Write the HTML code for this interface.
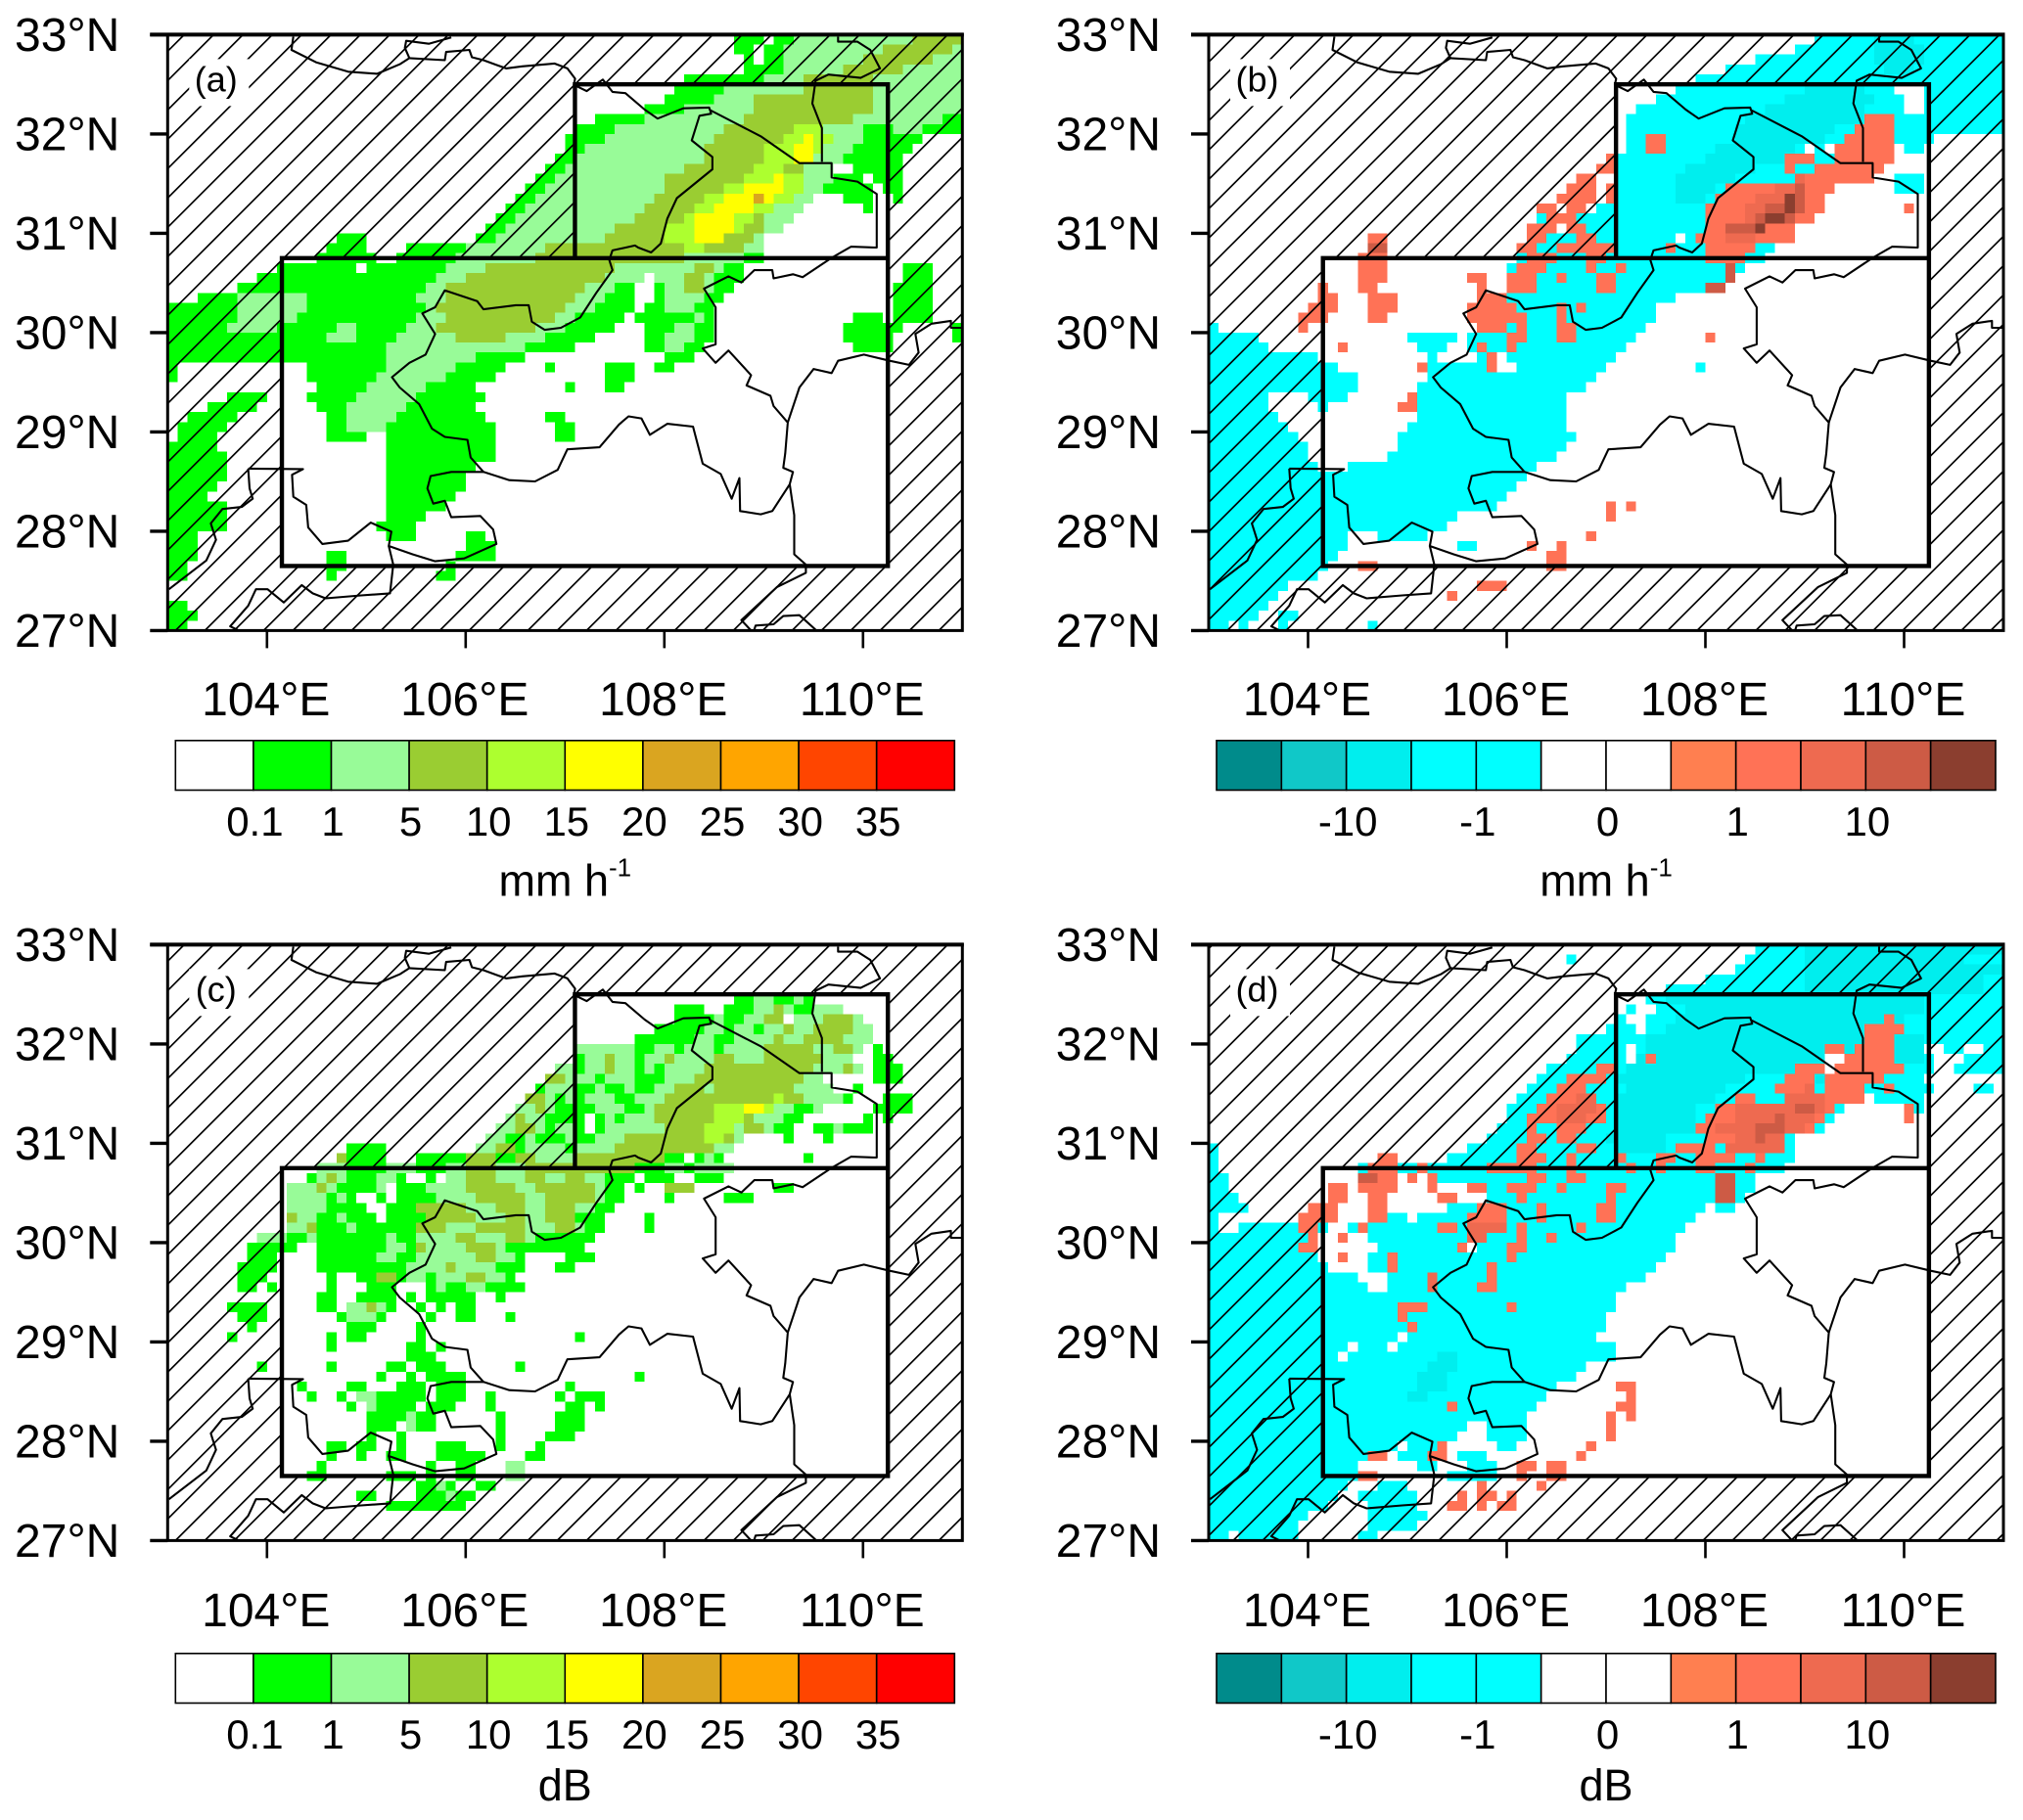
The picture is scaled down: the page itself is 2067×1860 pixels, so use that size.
<!DOCTYPE html>
<html lang="en">
<head>
<meta charset="utf-8">
<title>Rainfall and reflectivity maps</title>
<style>
html,body{margin:0;padding:0;background:#fff;}
svg{display:block;font-family:"Liberation Sans",Arial,sans-serif;}
</style>
</head>
<body>
<svg id="figure" xmlns="http://www.w3.org/2000/svg" width="2067" height="1860" viewBox="0 0 2067 1860"></svg>
<script>
/* Axis tick values */
const latTicks = [27, 28, 29, 30, 31, 32, 33];
const lonTicks = [104, 106, 108, 110];

/* Colour bars */
const rainBarColors = ['#ffffff','#00ff00','#98fb98','#9acd32','#adff2f','#ffff00','#daa520','#ffa500','#ff4500','#ff0000'];
const rainBarLabels = ['0.1','1','5','10','15','20','25','30','35'];
const diffBarColors = ['#008b8b','#10c8c8','#00eeee','#00ffff','#00ffff','#ffffff','#ffffff','#ff7f50','#ff7256','#ee6a50','#cd5b45','#8b3e2f'];
const diffBarLabels = ['-10','-1','0','1','10'];
const diffCellColors = ['#ffffff','#00ffff','#00eeee','#10c8c8','#ff7256','#ee6a50','#cd5b45','#8b3e2f'];

/* Gridded levels: one row per 0.1 deg of latitude from 33N southward.
   Each row is level, endColumn pairs; a column is 0.1 deg of longitude from 103E. */
const panelARows = [
[0,57,1,60,0,61,1,63,2,75,3,80],
[0,57,1,59,0,60,1,62,2,72,3,79,2,80],
[0,58,1,59,0,60,1,62,2,70,3,77,2,80],
[0,58,1,62,2,68,3,74,2,80],
[0,52,1,60,2,64,3,71,2,80],
[0,51,1,56,2,64,3,71,2,80],
[0,50,1,55,2,59,3,71,2,80],
[0,48,1,52,2,59,3,71,2,80],
[0,43,1,48,2,58,3,69,2,72,2,78,1,80],
[0,41,1,45,2,56,3,63,4,66,2,70,1,73,2,76,1,80],
[0,40,1,44,2,55,3,62,4,64,5,65,4,67,2,70,1,76,0,80],
[0,40,1,42,2,54,3,60,4,63,5,65,4,66,2,69,1,75,0,80],
[0,39,1,41,2,54,3,60,4,63,5,65,2,68,1,74,0,80],
[0,38,1,40,2,52,3,59,4,62,3,64,2,67,0,69,1,74,0,80],
[0,37,1,39,2,50,3,58,4,61,5,62,4,64,2,67,1,70,0,71,1,74,0,80],
[0,36,1,38,2,50,3,56,4,58,5,62,4,64,2,66,1,71,0,72,1,74,0,80],
[0,35,1,37,2,49,3,54,4,56,5,59,6,60,5,61,4,63,2,65,0,68,1,71,0,73,1,74,0,80],
[0,34,1,36,2,48,3,53,4,55,5,59,4,61,2,64,0,70,1,71,0,80],
[0,33,1,35,2,47,3,52,4,53,5,57,4,59,3,60,2,63,0,80],
[0,32,1,34,2,45,3,50,4,53,5,57,4,58,3,60,2,62,0,80],
[0,17,1,20,0,31,1,33,2,44,3,50,4,53,5,56,3,59,2,60,0,80],
[0,16,1,20,0,24,1,30,2,38,3,52,4,54,3,58,2,60,0,80],
[0,15,1,21,0,23,1,29,2,37,3,52,2,58,1,60,0,80],
[0,11,1,19,0,20,1,28,2,32,3,45,2,53,3,55,2,56,1,58,0,74,1,77,0,80],
[0,9,1,27,2,30,3,44,2,48,0,49,2,52,3,54,2,55,1,58,0,74,1,77,0,80],
[0,7,1,26,2,28,3,42,2,45,1,47,0,49,1,50,2,52,3,54,2,55,1,57,0,73,1,77,0,80],
[0,3,1,7,2,14,1,25,2,28,3,41,2,44,1,47,0,49,1,50,2,54,1,56,0,73,1,77,0,80],
[1,7,2,14,1,26,2,27,3,40,2,43,1,47,0,48,1,50,2,53,1,55,0,73,1,77,0,80],
[1,7,2,13,1,25,2,28,3,39,2,41,1,46,0,47,1,53,2,54,1,55,0,69,1,72,0,73,1,77,0,80],
[1,6,2,11,1,17,2,19,1,24,2,27,3,37,2,40,1,45,0,48,1,51,2,53,1,55,0,68,1,74,0,79,1,80],
[1,16,2,19,1,23,2,29,3,34,2,38,1,43,0,48,1,50,2,53,1,55,0,68,1,73,0,79,1,80],
[1,22,2,36,1,41,0,48,1,50,2,52,1,54,0,69,1,73,0,80],
[1,22,2,31,1,36,0,50,1,53,0,80],
[1,1,0,14,1,22,2,29,1,34,0,38,1,39,0,44,1,47,0,49,1,51,0,80],
[1,1,0,14,1,21,2,28,1,33,0,44,1,47,0,80],
[0,15,1,20,2,26,1,31,0,40,1,41,0,44,1,46,0,80],
[0,6,1,10,0,14,1,19,2,25,1,32,0,80],
[0,4,1,9,0,15,1,18,2,24,1,31,0,80],
[0,2,1,7,0,16,1,18,2,23,1,32,0,38,1,40,0,80],
[0,1,1,6,0,16,1,18,2,22,1,33,0,39,1,41,0,80],
[0,1,1,5,0,16,1,20,0,22,1,33,0,39,1,41,0,80],
[1,5,0,22,1,33,0,80],
[1,6,0,22,1,33,0,80],
[1,6,0,22,1,31,0,80],
[1,6,0,22,1,30,0,80],
[1,5,0,22,1,30,0,80],
[1,4,0,22,1,29,0,80],
[1,6,0,22,1,28,0,80],
[1,6,0,22,1,26,0,80],
[1,6,0,21,1,25,0,80],
[1,3,0,22,1,25,0,30,1,32,0,80],
[1,3,0,30,1,33,0,80],
[1,3,0,16,1,18,0,29,1,33,0,80],
[1,2,0,16,1,18,0,28,1,29,0,80],
[1,2,0,16,1,17,0,27,1,29,0,80],
[0,80],
[0,80],
[1,2,0,80],
[1,3,0,80],
[1,2,0,80]
];
const panelBRows = [
[0,61,1,67,2,71,1,80],
[0,59,1,67,2,72,1,80],
[0,55,1,67,2,72,1,80],
[0,52,1,68,2,71,1,80],
[0,49,1,80],
[0,47,1,60,2,66,1,69,0,72,1,80],
[0,45,1,58,2,67,1,70,0,72,1,80],
[0,43,1,56,2,66,1,70,0,72,1,80],
[0,42,1,54,2,66,4,69,1,80],
[0,42,1,53,2,63,1,65,4,69,1,80],
[0,42,1,44,4,46,1,53,2,62,1,64,4,69,1,73,0,80],
[0,42,1,44,4,46,1,51,2,59,1,60,0,61,1,62,0,63,4,69,0,70,1,72,0,80],
[0,40,4,41,1,50,2,58,4,61,1,63,4,69,0,80],
[0,39,4,41,1,48,2,55,1,58,4,59,1,61,4,68,0,80],
[0,37,4,39,0,41,1,47,2,53,1,59,5,60,4,67,0,69,1,72,0,80],
[0,36,4,39,0,40,4,41,1,47,2,51,1,52,4,57,5,59,6,60,4,63,0,69,1,72,0,80],
[0,35,4,39,0,40,4,41,1,47,2,50,1,51,4,55,5,58,7,59,6,60,4,62,0,80],
[0,33,4,35,0,36,4,38,0,39,1,50,4,54,5,56,6,58,7,59,6,60,4,62,0,70,4,71,0,80],
[0,33,1,34,4,37,1,50,4,54,5,55,6,56,7,58,6,59,4,61,0,80],
[0,32,4,35,0,36,4,38,1,50,4,52,6,55,7,56,4,59,0,80],
[0,16,4,18,0,32,4,34,1,37,4,39,1,47,0,48,1,49,4,52,5,55,4,59,0,80],
[0,16,6,18,0,31,4,33,1,35,4,41,1,46,4,47,1,50,4,55,1,57,0,80],
[0,15,4,18,0,31,1,32,4,35,1,38,4,40,1,50,4,54,1,56,0,80],
[0,15,4,18,0,30,1,31,4,34,1,38,4,39,1,41,4,42,1,52,6,53,1,54,0,80],
[0,15,4,18,0,26,4,28,0,30,4,33,1,35,4,36,1,39,4,41,1,52,6,53,0,80],
[0,11,4,12,0,15,4,17,0,27,4,28,0,30,4,33,1,39,4,41,1,50,6,52,0,80],
[0,11,4,13,0,16,4,19,0,27,4,30,1,47,0,80],
[0,10,4,13,0,16,4,19,0,26,4,31,1,35,4,36,1,37,4,38,1,45,0,80],
[0,9,4,12,0,16,4,18,0,26,4,32,1,35,4,36,1,45,0,80],
[1,1,0,9,4,10,0,27,4,30,1,31,4,32,1,35,4,37,1,44,0,80],
[1,5,0,20,1,25,0,26,1,30,4,32,1,35,4,37,1,43,0,50,4,51,0,80],
[1,6,0,13,4,14,0,21,1,24,0,26,1,27,4,28,1,30,4,31,1,42,0,80],
[1,11,0,22,1,23,0,27,1,28,4,29,0,30,1,41,0,80],
[1,13,0,21,4,22,1,28,4,29,0,31,1,40,0,49,1,50,0,80],
[1,15,0,22,1,39,0,80],
[1,15,0,21,1,38,0,80],
[1,6,0,10,1,14,0,20,4,21,1,36,0,80],
[1,6,0,11,1,12,0,19,4,21,1,36,0,80],
[1,7,0,21,1,36,0,80],
[1,8,0,20,1,36,0,80],
[1,9,0,19,1,37,0,80],
[1,10,0,19,1,36,0,80],
[1,10,0,18,1,35,0,80],
[1,11,0,14,1,33,0,80],
[1,32,0,80],
[1,31,0,80],
[1,30,0,80],
[1,29,0,40,4,41,0,42,4,43,0,80],
[1,25,0,40,4,41,0,80],
[1,24,0,80],
[1,14,0,17,1,22,0,38,4,39,0,80],
[1,14,0,25,1,27,0,32,4,33,0,35,4,36,0,80],
[1,13,0,34,4,36,0,80],
[1,12,0,15,4,17,0,34,4,36,0,80],
[1,11,0,80],
[1,8,0,27,4,30,0,80],
[1,7,0,24,4,25,0,80],
[1,6,0,80],
[1,5,0,7,1,9,0,80],
[1,2,0,3,1,4,0,7,1,8,0,16,1,17,0,80]
];
const panelCRows = [
[0,80],[0,80],[0,80],[0,80],[0,80],
[0,57,1,59,2,61,1,63,2,64,1,65,0,80],
[0,51,1,54,0,56,1,59,2,61,3,62,2,63,1,65,2,68,0,80],
[0,51,1,55,2,56,1,58,2,60,3,62,0,63,2,66,3,69,2,70,0,80],
[0,49,1,54,2,56,1,57,2,59,1,60,2,62,3,63,2,65,3,69,2,71,0,80],
[0,47,1,53,2,55,1,57,2,61,3,62,2,64,3,68,2,71,0,80],
[0,41,2,47,1,49,2,51,1,52,2,55,1,56,2,60,3,65,2,67,3,69,2,70,0,71,1,72,0,80],
[0,41,1,42,2,44,3,45,2,47,1,48,2,50,3,51,2,55,3,57,2,60,3,66,2,69,0,71,1,73,0,80],
[0,39,2,41,1,42,2,44,3,45,2,47,1,48,2,49,1,50,2,54,3,65,2,68,3,69,2,70,0,71,1,74,0,80],
[0,38,3,40,2,43,1,44,2,47,1,50,2,53,3,64,2,66,0,71,1,74,0,80],
[0,37,1,38,2,41,1,43,2,44,1,46,2,47,1,49,2,51,3,54,2,55,3,63,2,67,0,69,1,70,0,80],
[0,36,3,38,2,39,1,40,2,41,1,42,2,45,1,47,2,50,3,61,4,62,3,64,2,68,1,69,0,72,1,75,0,80],
[0,35,2,37,3,38,2,39,1,43,2,46,1,48,2,49,3,55,4,58,5,60,4,61,2,63,1,65,2,66,0,71,1,75,0,80],
[0,34,2,35,3,36,2,38,1,42,0,43,1,44,2,45,1,46,2,49,3,55,4,58,3,59,2,62,1,64,0,70,1,71,0,72,1,73,0,80],
[0,33,2,35,3,37,2,38,1,39,2,41,1,42,0,43,1,44,2,50,3,54,4,57,2,58,3,60,2,61,1,63,0,65,1,67,2,68,1,71,0,80],
[0,32,2,34,1,36,2,37,1,40,2,41,1,43,2,46,3,54,4,56,3,57,2,58,0,62,1,63,0,66,1,67,0,80],
[0,18,1,22,0,31,2,33,3,35,1,36,2,40,1,41,2,45,3,55,2,57,0,80],
[0,17,3,18,1,22,0,25,1,30,3,33,1,35,3,37,2,41,3,50,1,52,0,53,1,54,2,55,1,56,0,64,1,65,0,80],
[0,15,2,18,1,22,2,25,1,28,2,30,3,33,2,36,3,47,1,50,2,52,1,53,2,57,0,80],
[0,14,1,15,2,16,3,17,2,18,1,21,2,23,1,24,0,26,1,27,0,28,2,30,3,33,2,36,3,38,2,40,3,42,2,44,1,47,0,48,1,51,0,53,1,56,0,80],
[0,12,2,15,3,16,2,17,1,21,2,22,0,23,1,26,2,30,3,35,2,37,3,43,2,44,1,46,0,47,1,48,0,50,3,53,0,61,1,63,0,80],
[0,12,2,16,1,17,2,18,1,19,0,21,1,22,0,23,1,27,2,31,3,36,2,38,3,43,2,44,1,46,0,50,1,51,0,56,1,59,0,80],
[0,12,2,16,1,20,0,22,1,25,3,30,2,33,3,36,2,38,3,41,2,43,1,45,0,80],
[0,12,3,13,2,15,1,17,2,18,1,21,0,22,1,26,3,31,2,34,3,36,2,38,3,41,1,44,0,48,1,49,0,80],
[0,12,2,14,3,15,1,18,2,19,1,25,3,28,2,31,3,36,2,39,3,41,2,42,1,44,0,48,1,49,0,80],
[0,9,2,12,1,14,2,15,1,22,2,23,1,25,2,29,3,31,2,34,3,36,2,37,1,43,0,80],
[0,8,1,13,0,15,1,22,2,24,1,25,3,26,2,30,3,33,2,34,1,42,0,80],
[0,8,1,11,0,15,1,21,2,23,1,25,2,31,3,33,2,35,1,36,0,40,1,43,0,80],
[0,7,1,11,0,15,1,24,2,28,3,29,2,33,1,36,0,39,1,41,0,80],
[0,7,1,10,0,16,1,17,0,19,1,21,3,23,1,24,2,26,1,27,2,30,3,32,2,34,1,35,0,80],
[0,7,1,9,0,10,1,11,0,16,1,17,0,20,1,23,0,26,1,27,2,28,1,30,2,32,1,36,0,80],
[0,15,1,17,0,19,1,23,0,24,1,25,0,26,1,31,0,33,1,34,0,80],
[0,6,1,7,0,7,1,10,0,15,1,17,0,18,2,20,3,21,2,22,1,23,0,25,1,26,0,27,1,28,0,29,1,31,0,80],
[0,7,1,10,0,17,1,18,2,21,1,22,0,26,1,27,0,29,1,31,0,34,1,35,0,80],
[0,8,1,9,0,18,1,21,0,25,1,26,0,80],
[0,6,1,7,0,16,1,17,0,18,1,20,0,25,1,26,0,41,1,42,0,80],
[0,16,1,17,0,24,1,26,0,27,1,28,0,80],
[0,24,1,27,0,80],
[0,9,1,10,0,16,1,17,0,22,1,24,0,25,1,28,0,35,1,36,0,80],
[0,21,1,22,0,24,1,25,0,26,1,30,0,47,1,48,0,80],
[0,13,1,14,0,18,1,20,0,23,1,26,0,27,1,30,0,40,1,41,0,80],
[0,14,1,15,0,17,1,18,0,19,2,21,1,26,0,27,1,30,0,32,1,33,0,39,1,40,0,41,1,44,0,80],
[0,18,1,19,0,20,2,21,1,25,0,26,1,29,0,32,1,33,0,40,1,42,0,43,1,44,0,80],
[0,20,1,24,2,25,1,27,0,33,1,34,0,39,1,42,0,80],
[0,20,1,23,0,24,2,25,1,27,0,33,1,34,0,39,1,42,0,80],
[0,20,1,21,0,23,1,24,0,33,1,34,0,38,1,41,0,80],
[0,16,1,18,0,19,1,21,0,23,1,24,0,27,1,30,0,33,1,34,0,37,1,38,0,80],
[0,16,1,17,0,19,1,20,0,22,1,24,0,27,1,32,0,36,1,38,0,80],
[0,15,1,16,0,26,1,27,0,29,1,31,0,34,2,36,0,80],
[0,14,1,16,0,22,1,25,0,26,1,27,0,29,1,31,0,34,2,36,0,80],
[0,25,1,27,2,28,1,29,0,31,1,33,0,80],
[0,19,1,21,0,25,1,28,2,29,1,31,0,80],
[0,22,1,30,0,80],
[0,80],[0,80],[0,80]
];
const panelDRows = [
[0,55,1,60,2,80],
[0,36,1,37,0,54,1,60,2,76,1,80],
[0,53,1,60,2,80],
[0,50,1,60,2,78,1,80],
[0,46,1,60,2,78,1,80],
[0,44,1,46,2,72,1,80],
[0,42,1,43,0,45,1,48,2,72,1,80],
[0,41,1,42,0,44,1,47,2,68,4,69,2,70,1,80],
[0,40,1,43,0,44,1,46,2,66,4,70,1,80],
[0,37,1,44,2,66,4,69,2,72,1,80],
[0,37,1,42,0,43,1,44,2,62,4,64,2,65,4,69,2,72,0,74,1,76,0,78,1,80],
[0,36,1,42,0,43,2,44,4,45,2,62,0,64,4,69,2,72,1,73,0,76,1,80],
[0,34,1,39,4,41,1,42,2,59,4,62,0,63,4,70,1,73,0,75,1,80],
[0,33,1,36,4,40,1,41,2,54,1,58,4,61,2,62,4,68,1,72,0,80],
[0,32,1,35,4,38,1,42,2,52,1,57,4,60,5,61,1,62,4,66,1,68,4,69,1,73,0,77,1,79,0,80],
[0,31,1,34,4,37,5,39,1,41,2,51,1,53,4,55,1,58,5,62,4,66,0,67,1,72,0,80],
[0,30,1,33,4,35,5,39,4,40,1,41,2,49,1,51,4,53,5,59,6,61,5,62,4,63,1,64,0,70,4,71,1,72,0,80],
[0,30,1,32,4,35,5,38,4,40,1,41,2,49,1,50,4,53,5,57,6,58,5,61,4,62,1,63,0,70,4,71,0,80],
[0,29,1,32,4,33,1,35,4,38,1,41,2,49,4,51,5,55,6,58,5,60,4,61,1,62,0,80],
[0,28,1,32,4,34,1,35,4,37,1,40,2,46,1,50,4,53,5,55,6,56,5,58,1,59,0,80],
[1,1,0,26,1,31,4,33,1,37,4,39,1,41,2,46,1,47,4,51,1,52,5,58,1,59,0,80],
[1,1,0,17,4,19,0,24,1,31,4,34,1,36,4,37,1,41,4,42,1,45,4,47,1,49,4,53,1,55,4,56,1,59,0,80],
[1,1,0,15,1,16,4,19,1,21,4,22,1,28,4,33,1,36,4,37,1,42,4,43,1,45,4,46,1,49,4,51,1,54,4,55,1,58,0,80],
[1,2,0,15,6,17,4,19,0,20,4,21,0,22,4,23,1,32,4,34,1,36,4,38,1,51,6,53,1,55,0,80],
[1,2,0,12,4,14,0,15,4,19,0,22,4,23,0,26,4,28,1,30,4,33,1,35,4,36,1,40,4,42,1,51,6,53,1,55,0,80],
[1,3,0,12,4,14,0,16,4,18,0,23,4,25,0,28,1,31,4,32,1,40,4,41,1,51,6,53,1,54,0,80],
[1,4,0,10,4,13,0,16,4,18,0,24,1,27,4,30,1,33,4,34,1,39,4,41,1,50,0,51,1,53,0,80],
[1,1,0,9,4,13,0,16,4,18,1,20,0,21,1,26,4,30,1,33,4,34,1,39,4,41,1,49,0,80],
[1,1,0,3,1,9,4,11,1,12,0,14,1,15,4,16,1,23,4,25,1,26,5,30,1,31,4,32,1,37,4,38,1,48,0,80],
[1,10,4,11,0,13,4,14,0,16,1,26,5,28,1,31,4,32,1,34,4,35,1,47,0,80],
[1,9,4,11,0,17,1,25,4,26,0,27,1,30,4,32,1,47,0,80],
[1,11,0,13,4,14,0,16,1,18,4,19,1,30,4,31,1,46,0,80],
[1,12,0,16,1,18,4,19,1,28,4,29,1,45,0,80],
[1,15,0,18,1,22,5,23,1,28,4,29,1,44,0,80],
[1,16,0,18,1,22,5,23,1,27,4,29,1,42,0,80],
[1,41,0,80],
[1,19,4,22,1,30,4,31,1,41,0,80],
[1,19,4,20,1,40,0,80],
[1,20,4,21,1,40,0,80],
[1,19,0,20,1,39,0,80],
[1,14,0,15,1,18,0,19,1,41,0,80],
[1,13,0,14,1,23,2,25,1,41,0,80],
[1,22,2,25,1,38,0,80],
[1,21,2,24,1,37,0,80],
[1,21,2,24,1,35,0,41,4,43,0,80],
[1,20,2,22,1,34,0,42,4,43,0,80],
[1,24,4,25,1,33,0,41,4,43,0,80],
[1,32,0,40,4,41,0,42,4,43,0,80],
[1,26,0,28,1,32,0,40,4,41,0,80],
[1,25,0,28,1,32,0,40,4,41,0,80],
[1,19,0,20,1,23,4,24,0,29,1,31,0,38,4,39,0,80],
[1,16,4,18,0,19,1,22,4,24,0,25,1,28,0,37,4,38,0,80],
[1,15,0,21,1,23,0,26,1,29,0,31,4,33,0,34,4,36,0,80],
[1,15,4,17,0,24,1,29,0,31,4,32,0,34,4,36,0,80],
[1,14,0,17,1,20,0,27,4,28,0,33,4,34,0,80],
[1,13,0,15,1,21,0,25,4,26,0,27,4,29,0,30,4,31,0,80],
[1,12,0,16,1,21,0,24,4,26,0,27,4,28,0,29,4,31,0,80],
[1,10,0,16,1,22,0,80],
[1,9,0,16,1,21,0,80],
[1,2,0,3,1,9,0,15,1,17,0,80]
];

/* Base-map boundaries, digitised as x,y pairs in trace units (see traceLon / traceLat) */
const boundaryTraces = [
[455,88,452,120,490,150,540,173,585,178,620,155,635,140,628,115,630,98,665,105,700,90],
[635,140,690,145,692,125,728,120,732,138,750,145,785,165,810,160,860,153,880,165,892,190,890,205,910,220,935,192,950,222,970,225,1000,265,1020,287,1060,262,1100,260,1103,275,1085,280,1073,340,1105,380,1105,410,1050,480,1035,530,1025,590,1010,612,990,600,985,595,950,607,945,630,950,655,925,710,900,770,870,795,845,800,825,780,820,740,800,740,750,750,740,730,690,704,675,745,655,760,675,810,660,860,635,880,608,915,620,940,650,980,670,1040,690,1060,725,1067,730,1110,750,1145,790,1165,830,1168,865,1140,880,1090,930,1085,960,1030,975,1010,995,1015,1008,1055,1035,1028,1075,1035,1090,1125,1118,1150,1135,1210,1147,1160,1148,1240,1180,1248,1198,1240,1225,1175,1230,1145,1215,1135,1218,1100,1222,1025,1200,985,1195,960,1158,935,1165,910,1130,850,1110,880,1090,845,1110,835,1110,745,1092,700,1130,670,1150,685,1170,655,1198,655,1200,675,1230,665,1245,672,1290,625,1320,598,1360,600,1360,470,1330,440,1290,430,1290,395,1240,395,1180,330,1100,265],
[1222,1025,1240,940,1262,895,1290,905,1300,875,1340,860,1380,875,1410,885,1425,855,1420,810,1445,785,1475,778,1475,795,1492,795],
[1275,392,1275,310,1260,250,1265,195,1285,180,1335,188,1365,165,1350,120,1330,100,1300,100,1300,88],
[1225,1175,1232,1250,1232,1345,1250,1370,1250,1390,1205,1425,1150,1505,1165,1530],
[1170,1528,1172,1518,1200,1515,1215,1495,1240,1493,1265,1528],
[385,1137,470,1138,453,1152,455,1205,475,1225,478,1280,500,1320,540,1312,575,1268,607,1290,603,1325,640,1345,675,1362,720,1355,770,1320,765,1285,745,1252,700,1255,690,1215,672,1222,663,1185,668,1155,700,1145,750,1145],
[603,1325,610,1370,605,1440,560,1445,505,1452,485,1440,468,1420,440,1462,415,1430,397,1430,385,1470,357,1520,370,1530],
[385,1137,387,1185,392,1210,375,1230,345,1235,327,1270,335,1310,320,1360,262,1430]
];

/* Rectangular verification domains, as lon/lat corners */
const domainOutline = [[104.15,30.75],[107.1,30.75],[107.1,32.5],[110.25,32.5],[110.25,27.65],[104.15,27.65]];
const dividerLine = [[107.1,30.75],[110.25,30.75]];

const panelTitles = ['(a)','(b)','(c)','(d)'];

const SVG_NS = 'http://www.w3.org/2000/svg';
const figure = document.getElementById('figure');
const PLOT_W = 812, PLOT_H = 609;
const traceLon = x => 103 + (x - 260) / 154.1;
const traceLat = y => 33 - (y - 83) / 241.2;

function mk(tag, attrs, parent) {
  const el = document.createElementNS(SVG_NS, tag);
  for (const k in attrs) el.setAttribute(k, attrs[k]);
  parent.appendChild(el);
  return el;
}

function drawPanel(cfg, index) {
  const px = cfg.x, py = cfg.y;
  const lonScale = lon => px + (lon - 103) / 8 * PLOT_W;
  const latScale = lat => py + (33 - lat) / 6 * PLOT_H;
  const colToX = c => lonScale(103 + c * 0.1);
  const rowToY = r => latScale(33 - r * 0.1);

  const panel = mk('g', {}, figure);
  
  

  const clipId = 'plot-clip-' + index;
  const defs = mk('defs', {}, panel);
  const plotClip = mk('clipPath', {id: clipId}, defs);
  mk('rect', {x: px, y: py, width: PLOT_W, height: PLOT_H}, plotClip);

  const hatchClipId = 'hatch-clip-' + index;
  const hatchClip = mk('clipPath', {id: hatchClipId}, defs);
  const outlineD = domainOutline.map((p, i) => (i ? 'L' : 'M') + lonScale(p[0]) + ' ' + latScale(p[1])).join('') + 'Z';
  const titleHole = 'M' + (px + 22) + ' ' + (py + 25) + 'h61v48h-61Z';
  mk('path', {'clip-rule': 'evenodd', d: 'M' + px + ' ' + py + 'h' + PLOT_W + 'v' + PLOT_H + 'h-' + PLOT_W + 'Z' + outlineD + titleHole}, hatchClip);

  /* gridded field */
  const field = mk('g', {'clip-path': 'url(#' + clipId + ')', 'shape-rendering': 'crispEdges'}, panel);
  
  
  cfg.rows.forEach((row, r) => {
    let start = 0;
    for (let k = 0; k + 1 < row.length; k += 2) {
      const level = row[k], end = row[k + 1];
      if (end > start && level > 0) {
        const cell = mk('rect', {
          x: colToX(start), y: rowToY(r),
          width: colToX(end) - colToX(start),
          height: rowToY(r + 1) - rowToY(r),
          fill: cfg.cellColors[level]
        }, field);
        
        
      }
      if (end > start) start = end;
    }
  });

  /* significance hatching outside the verification domain */
  const hatch = mk('g', {'clip-path': 'url(#' + hatchClipId + ')', stroke: '#000', 'stroke-width': 1.7, fill: 'none'}, panel);
  
  
  for (let xb = px + cfg.hatchOffset - 30 * 24; xb < px + PLOT_W; xb += 30) {
    const line = mk('line', {x1: xb, y1: py + PLOT_H, x2: xb + PLOT_H, y2: py}, hatch);
    
    
  }

  /* province boundaries */
  const borders = mk('g', {'clip-path': 'url(#' + clipId + ')', stroke: '#000', 'stroke-width': 2.1, fill: 'none', 'stroke-linejoin': 'round'}, panel);
  
  
  boundaryTraces.forEach(tr => {
    let d = '';
    for (let i = 0; i + 1 < tr.length; i += 2) {
      d += (i ? 'L' : 'M') + lonScale(traceLon(tr[i])).toFixed(1) + ' ' + latScale(traceLat(tr[i + 1])).toFixed(1);
    }
    const path = mk('path', {d: d}, borders);
    
    
  });

  /* verification domain box */
  const box = mk('path', {d: outlineD, fill: 'none', stroke: '#000', 'stroke-width': 4.4}, panel);
  
  
  const divider = mk('line', {x1: lonScale(dividerLine[0][0]), y1: latScale(dividerLine[0][1]), x2: lonScale(dividerLine[1][0]), y2: latScale(dividerLine[1][1]), stroke: '#000', 'stroke-width': 4.4}, panel);
  
  

  /* plot frame */
  const frame = mk('rect', {x: px, y: py, width: PLOT_W, height: PLOT_H, fill: 'none', stroke: '#000', 'stroke-width': 3}, panel);
  
  
  const topLine = mk('line', {x1: px - 18, y1: py, x2: px + PLOT_W + 1.5, y2: py, stroke: '#000', 'stroke-width': 4}, panel);
  
  

  /* y axis */
  latTicks.forEach(lat => {
    const y = latScale(lat);
    const tick = mk('line', {x1: px - 18, y1: y, x2: px, y2: y, stroke: '#000', 'stroke-width': 3.4}, panel);
    
    
    const label = mk('text', {x: px - 49, y: y + 16.5, 'text-anchor': 'end', 'font-size': 48, fill: '#000'}, panel);
    
    
    label.textContent = lat + '\u00B0N';
  });

  /* x axis */
  lonTicks.forEach(lon => {
    const x = lonScale(lon);
    const tick = mk('line', {x1: x, y1: py + PLOT_H, x2: x, y2: py + PLOT_H + 18, stroke: '#000', 'stroke-width': 2.6}, panel);
    
    
    const label = mk('text', {x: x - 1, y: cfg.xLabelY, 'text-anchor': 'middle', 'font-size': 48, fill: '#000'}, panel);
    
    
    label.textContent = lon + '\u00B0E';
  });

  /* panel title */
  const title = mk('text', {x: px + 49.5, y: py + 58, 'text-anchor': 'middle', 'font-size': 36, fill: '#000'}, panel);
  
  
  title.textContent = panelTitles[index];

  /* colour bar */
  const barX = px + 8, barW = 796, barH = 50.7;
  const bar = mk('g', {}, panel);
  
  
  const n = cfg.barColors.length, bw = barW / n;
  cfg.barColors.forEach((c, i) => {
    const seg = mk('rect', {x: barX + i * bw, y: cfg.barY, width: bw, height: barH, fill: c, stroke: '#000', 'stroke-width': 1.6}, bar);
    
    
  });
  cfg.barLabels.forEach((t, i) => {
    const label = mk('text', {x: barX + (cfg.labelStart + i * cfg.labelStep) * bw + 1.5, y: cfg.barLabelY, 'text-anchor': 'middle', 'font-size': 42, fill: '#000'}, bar);
    
    
    label.textContent = t;
  });

  /* units */
  const unit = mk('text', {x: px + PLOT_W / 2 + cfg.unitShift, y: cfg.unitY, 'text-anchor': 'middle', 'font-size': 45, fill: '#000'}, panel);
  
  
  unit.textContent = cfg.unit;
  if (cfg.unitSup) {
    const sup = mk('tspan', {dy: -20, 'font-size': 26}, unit);
    
    
    sup.textContent = cfg.unitSup;
  }
}

const panelConfigs = [
  {x: 171.3, y: 35.4, rows: panelARows, cellColors: rainBarColors, hatchOffset: 8, xLabelY: 731, barY: 756.8, barLabelY: 854, unitY: 915.6, barColors: rainBarColors, barLabels: rainBarLabels, labelStart: 1, labelStep: 1, unit: 'mm h', unitSup: '-1', unitShift: 0},
  {x: 1235, y: 35.4, rows: panelBRows, cellColors: diffCellColors, hatchOffset: 19, xLabelY: 731, barY: 756.8, barLabelY: 854, unitY: 915.6, barColors: diffBarColors, barLabels: diffBarLabels, labelStart: 2, labelStep: 2, unit: 'mm h', unitSup: '-1', unitShift: 0},
  {x: 171.3, y: 965.4, rows: panelCRows, cellColors: rainBarColors, hatchOffset: 8, xLabelY: 1661.8, barY: 1689.8, barLabelY: 1787, unitY: 1840, barColors: rainBarColors, barLabels: rainBarLabels, labelStart: 1, labelStep: 1, unit: 'dB', unitSup: '', unitShift: 0},
  {x: 1235, y: 965.4, rows: panelDRows, cellColors: diffCellColors, hatchOffset: 25, xLabelY: 1661.8, barY: 1689.8, barLabelY: 1787, unitY: 1840, barColors: diffBarColors, barLabels: diffBarLabels, labelStart: 2, labelStep: 2, unit: 'dB', unitSup: '', unitShift: 0}
];
panelConfigs.forEach(drawPanel);
</script>
</body>
</html>
